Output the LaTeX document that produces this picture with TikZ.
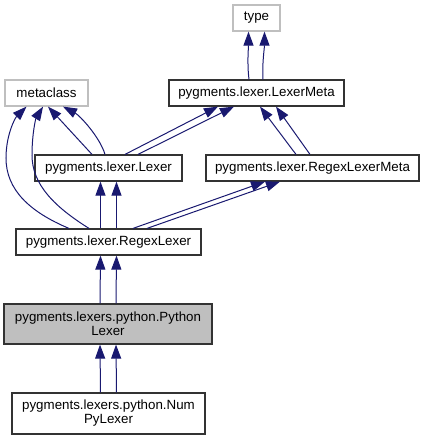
\documentclass[tikz,border=0pt]{standalone}
\usepackage{fontspec}
\setmainfont{Liberation Sans}
\usetikzlibrary{arrows.meta,calc}
\definecolor{edgeblue}{RGB}{25,25,112}
\definecolor{grey75}{RGB}{191,191,191}
\tikzset{
  cls/.style={rectangle,draw=black!80,line width=0.9pt,fill=white,
    inner sep=0pt,minimum height=19.5pt,align=center,
    font=\fontsize{10}{10.5}\selectfont},
  extcls/.style={cls,draw=grey75},
  wd/.style={minimum width=#1*0.75pt},
  inh/.style={-{Triangle[length=10.5pt,width=7.5pt]},draw=edgeblue,line width=0.75pt},
}

\begin{document}
\begin{tikzpicture}[x=0.75pt,y=-0.75pt,
  focus/.style={cls,fill=grey75,minimum height=30pt},
]
  \useasboundingbox (0,0) rectangle (425,440);

  \node[extcls,wd=47] (type) at (256.5,18) {type};
  \node[extcls,wd=83] (metaclass) at (46.5,93) {metaclass};
  \node[cls,wd=175] (lexmeta) at (256.5,93) {pygments.lexer.LexerMeta};
  \node[cls,wd=147] (lexer) at (108.5,168) {pygments.lexer.Lexer};
  \node[cls,wd=213] (rlmeta) at (312.5,168) {pygments.lexer.RegexLexerMeta};
  \node[cls,wd=185] (regex) at (108.5,242) {pygments.lexer.RegexLexer};
  \node[focus,wd=208] (python) at (108,324) {pygments.lexers.python.Python\\Lexer};
  \node[cls,wd=193,minimum height=30.75pt] (numpy) at (108.5,413.5) {pygments.lexers.python.Num\\PyLexer};

  % LexerMeta -> type
  \draw[inh] ($(lexmeta.north)+(-7.5,0)$) .. controls +(-2,-16) and +(0,16) .. ($(type.south)+(-8,0)$);
  \draw[inh] ($(lexmeta.north)+(6.5,0)$) .. controls +(-1,-16) and +(0,16) .. ($(type.south)+(8,0)$);

  % Lexer -> LexerMeta, metaclass
  \draw[inh] ($(lexer.north)+(16.5,0)$) -- ($(lexmeta.south)+(-38.5,0)$);
  \draw[inh] ($(lexer.north)+(29.5,0)$) -- ($(lexmeta.south)+(-22.5,0)$);
  \draw[inh] ($(lexer.north)+(-16.5,0)$) -- ($(metaclass.south)+(1.5,0)$);
  \draw[inh] ($(lexer.north)+(-3.5,0)$) .. controls +(-5,-17) and +(17,9) .. ($(metaclass.south)+(16.5,0)$);

  % RegexLexerMeta -> LexerMeta
  \draw[inh] ($(rlmeta.north)+(-16.5,0)$) -- ($(lexmeta.south)+(3.5,0)$);
  \draw[inh] ($(rlmeta.north)+(-2.5,0)$) -- ($(lexmeta.south)+(19.5,0)$);

  % RegexLexer -> metaclass
  \draw[inh] ($(regex.north)+(-39.5,0)$) .. controls (30,212) and (6,190) .. (6,158)
    .. controls (6,135) and (15,118) .. ($(metaclass.south)+(-20,0)$);
  \draw[inh] ($(regex.north)+(-19.5,0)$) .. controls (55,207) and (32,185) .. (32,155)
    .. controls (32,133) and (36,118) .. ($(metaclass.south)+(-3.5,0)$);

  % RegexLexer -> Lexer, RegexLexerMeta
  \draw[inh] ($(regex.north)+(-8,0)$) -- ($(lexer.south)+(-8,0)$);
  \draw[inh] ($(regex.north)+(8,0)$) -- ($(lexer.south)+(8,0)$);
  \draw[inh] ($(regex.north)+(24.5,0)$) -- ($(rlmeta.south)+(-47.5,0)$);
  \draw[inh] ($(regex.north)+(38.5,0)$) -- ($(rlmeta.south)+(-32.5,0)$);

  % PythonLexer -> RegexLexer
  \draw[inh] ($(python.north)+(-8,0)$) -- ($(regex.south)+(-8,0)$);
  \draw[inh] ($(python.north)+(8,0)$) -- ($(regex.south)+(8,0)$);

  % NumPyLexer -> PythonLexer
  \draw[inh] ($(numpy.north)+(-8,0)$) -- ($(python.south)+(-8,0)$);
  \draw[inh] ($(numpy.north)+(8,0)$) -- ($(python.south)+(8,0)$);
\end{tikzpicture}
\end{document}
